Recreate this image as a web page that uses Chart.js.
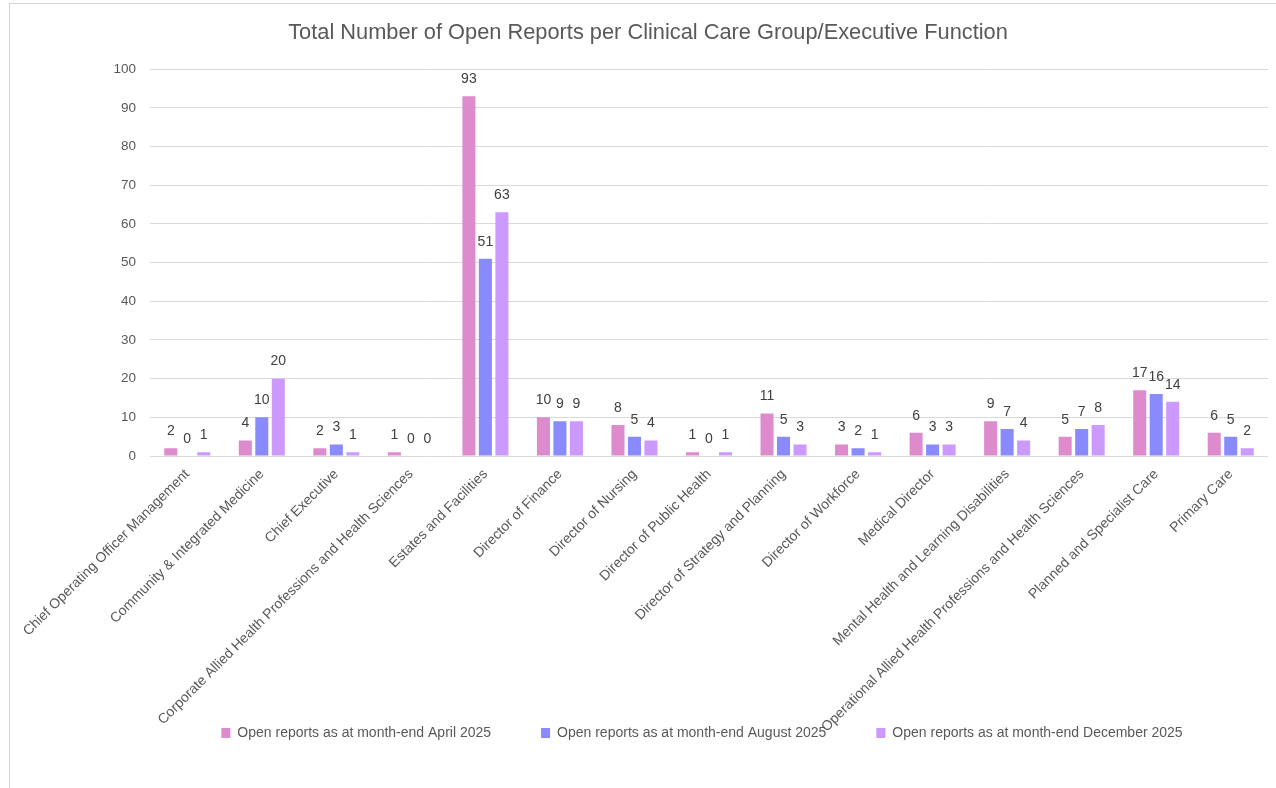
<!DOCTYPE html>
<html lang="en">
<head>
    <meta charset="UTF-8">
    <title>Open Reports per Clinical Care Group</title>
    <script src="https://cdn.jsdelivr.net/npm/chart.js"></script>
    <style>
        body { margin: 0; background: #fff; overflow: hidden; }
        #frame { position: absolute; left: 9px; top: 3px; width: 1300px; height: 800px; border: 1px solid #d4d4d4; }
        #wrap { position: absolute; left: 0; top: 0; width: 1276px; height: 788px; }
    </style>
</head>
<body>
    <div id="frame"></div>
    <div id="wrap"><canvas id="myChart"></canvas></div>
    <script>
        const groups = [
            'Chief Operating Officer Management',
            'Community & Integrated Medicine',
            'Chief Executive',
            'Corporate Allied Health Professions and Health Sciences',
            'Estates and Facilities',
            'Director of Finance',
            'Director of Nursing',
            'Director of Public Health',
            'Director of Strategy and Planning',
            'Director of Workforce',
            'Medical Director',
            'Mental Health and Learning Disabilities',
            'Operational Allied Health Professions and Health Sciences',
            'Planned and Specialist Care',
            'Primary Care'
        ];
        const april2025 = [2, 4, 2, 1, 93, 10, 8, 1, 11, 3, 6, 9, 5, 17, 6];
        const august2025 = [0, 10, 3, 0, 51, 9, 5, 0, 5, 2, 3, 7, 7, 16, 5];
        const december2025 = [1, 20, 1, 0, 63, 9, 4, 1, 3, 1, 3, 4, 8, 14, 2];
        const yTicks = [0, 10, 20, 30, 40, 50, 60, 70, 80, 90, 100];

        const FONT = "'Liberation Sans', Arial, sans-serif";
        const GREY = '#595959';

        // value labels above each bar
        const valueLabels = {
            id: 'valueLabels',
            afterDatasetsDraw(chart) {
                const ctx = chart.ctx;
                ctx.save();
                ctx.font = '14px ' + FONT;
                ctx.fillStyle = '#404040';
                ctx.textAlign = 'center';
                ctx.textBaseline = 'middle';
                chart.data.datasets.forEach((ds, i) => {
                    chart.getDatasetMeta(i).data.forEach((bar, j) => {
                        ctx.fillText(String(ds.data[j]), bar.x, bar.y - 17);
                    });
                });
                ctx.restore();
            }
        };

        // title and legend sit a bit right of centre
        const boxShift = {
            id: 'boxShift',
            afterLayout(chart) {
                chart.legend.left += 63;
                chart.legend.right += 63;
                chart.titleBlock.left += 18;
                chart.titleBlock.right += 0;
            }
        };

        const ctx = document.getElementById('myChart').getContext('2d');
        new Chart(ctx, {
            type: 'bar',
            data: {
                labels: groups,
                datasets: [
                    { label: 'Open reports as at month-end April 2025', data: april2025, backgroundColor: '#dd8bcc' },
                    { label: 'Open reports as at month-end August 2025', data: august2025, backgroundColor: '#8a8aff' },
                    { label: 'Open reports as at month-end December 2025', data: december2025, backgroundColor: '#cc99ff' }
                ]
            },
            options: {
                responsive: true,
                maintainAspectRatio: false,
                animation: false,
                categoryPercentage: 0.664,
                barPercentage: 0.79,
                layout: { padding: { left: 10, right: 8, top: 0, bottom: 38 } },
                plugins: {
                    title: {
                        display: true,
                        text: 'Total Number of Open Reports per Clinical Care Group/Executive Function',
                        color: GREY,
                        font: { family: FONT, size: 21.8, weight: 'normal' },
                        padding: { top: 20, bottom: 23 }
                    },
                    legend: {
                        position: 'bottom',
                        labels: {
                            color: GREY,
                            font: { family: FONT, size: 14 },
                            boxWidth: 9,
                            boxHeight: 10,
                            padding: 50
                        }
                    },
                    tooltip: { enabled: false }
                },
                scales: {
                    x: {
                        grid: { display: false },
                        border: { display: false },
                        ticks: {
                            color: GREY,
                            font: { family: FONT, size: 14 },
                            minRotation: 45,
                            maxRotation: 45,
                            autoSkip: false,
                            padding: 2
                        },
                        afterFit(s) {
                            s.height = 220;
                            // long labels run down past the axis box, over the legend
                            s._computeLabelArea = () => null;
                        }
                    },
                    y: {
                        min: 0,
                        max: 100,
                        grid: { color: '#d9d9d9', drawTicks: false },
                        border: { display: false },
                        afterBuildTicks(s) { s.ticks = yTicks.map(v => ({ value: v })); },
                        ticks: {
                            color: GREY,
                            font: { family: FONT, size: 13.5 },
                            padding: 14
                        },
                        afterFit(s) { s.width = 140; }
                    }
                }
            },
            plugins: [valueLabels, boxShift]
        });
    </script>
</body>
</html>
